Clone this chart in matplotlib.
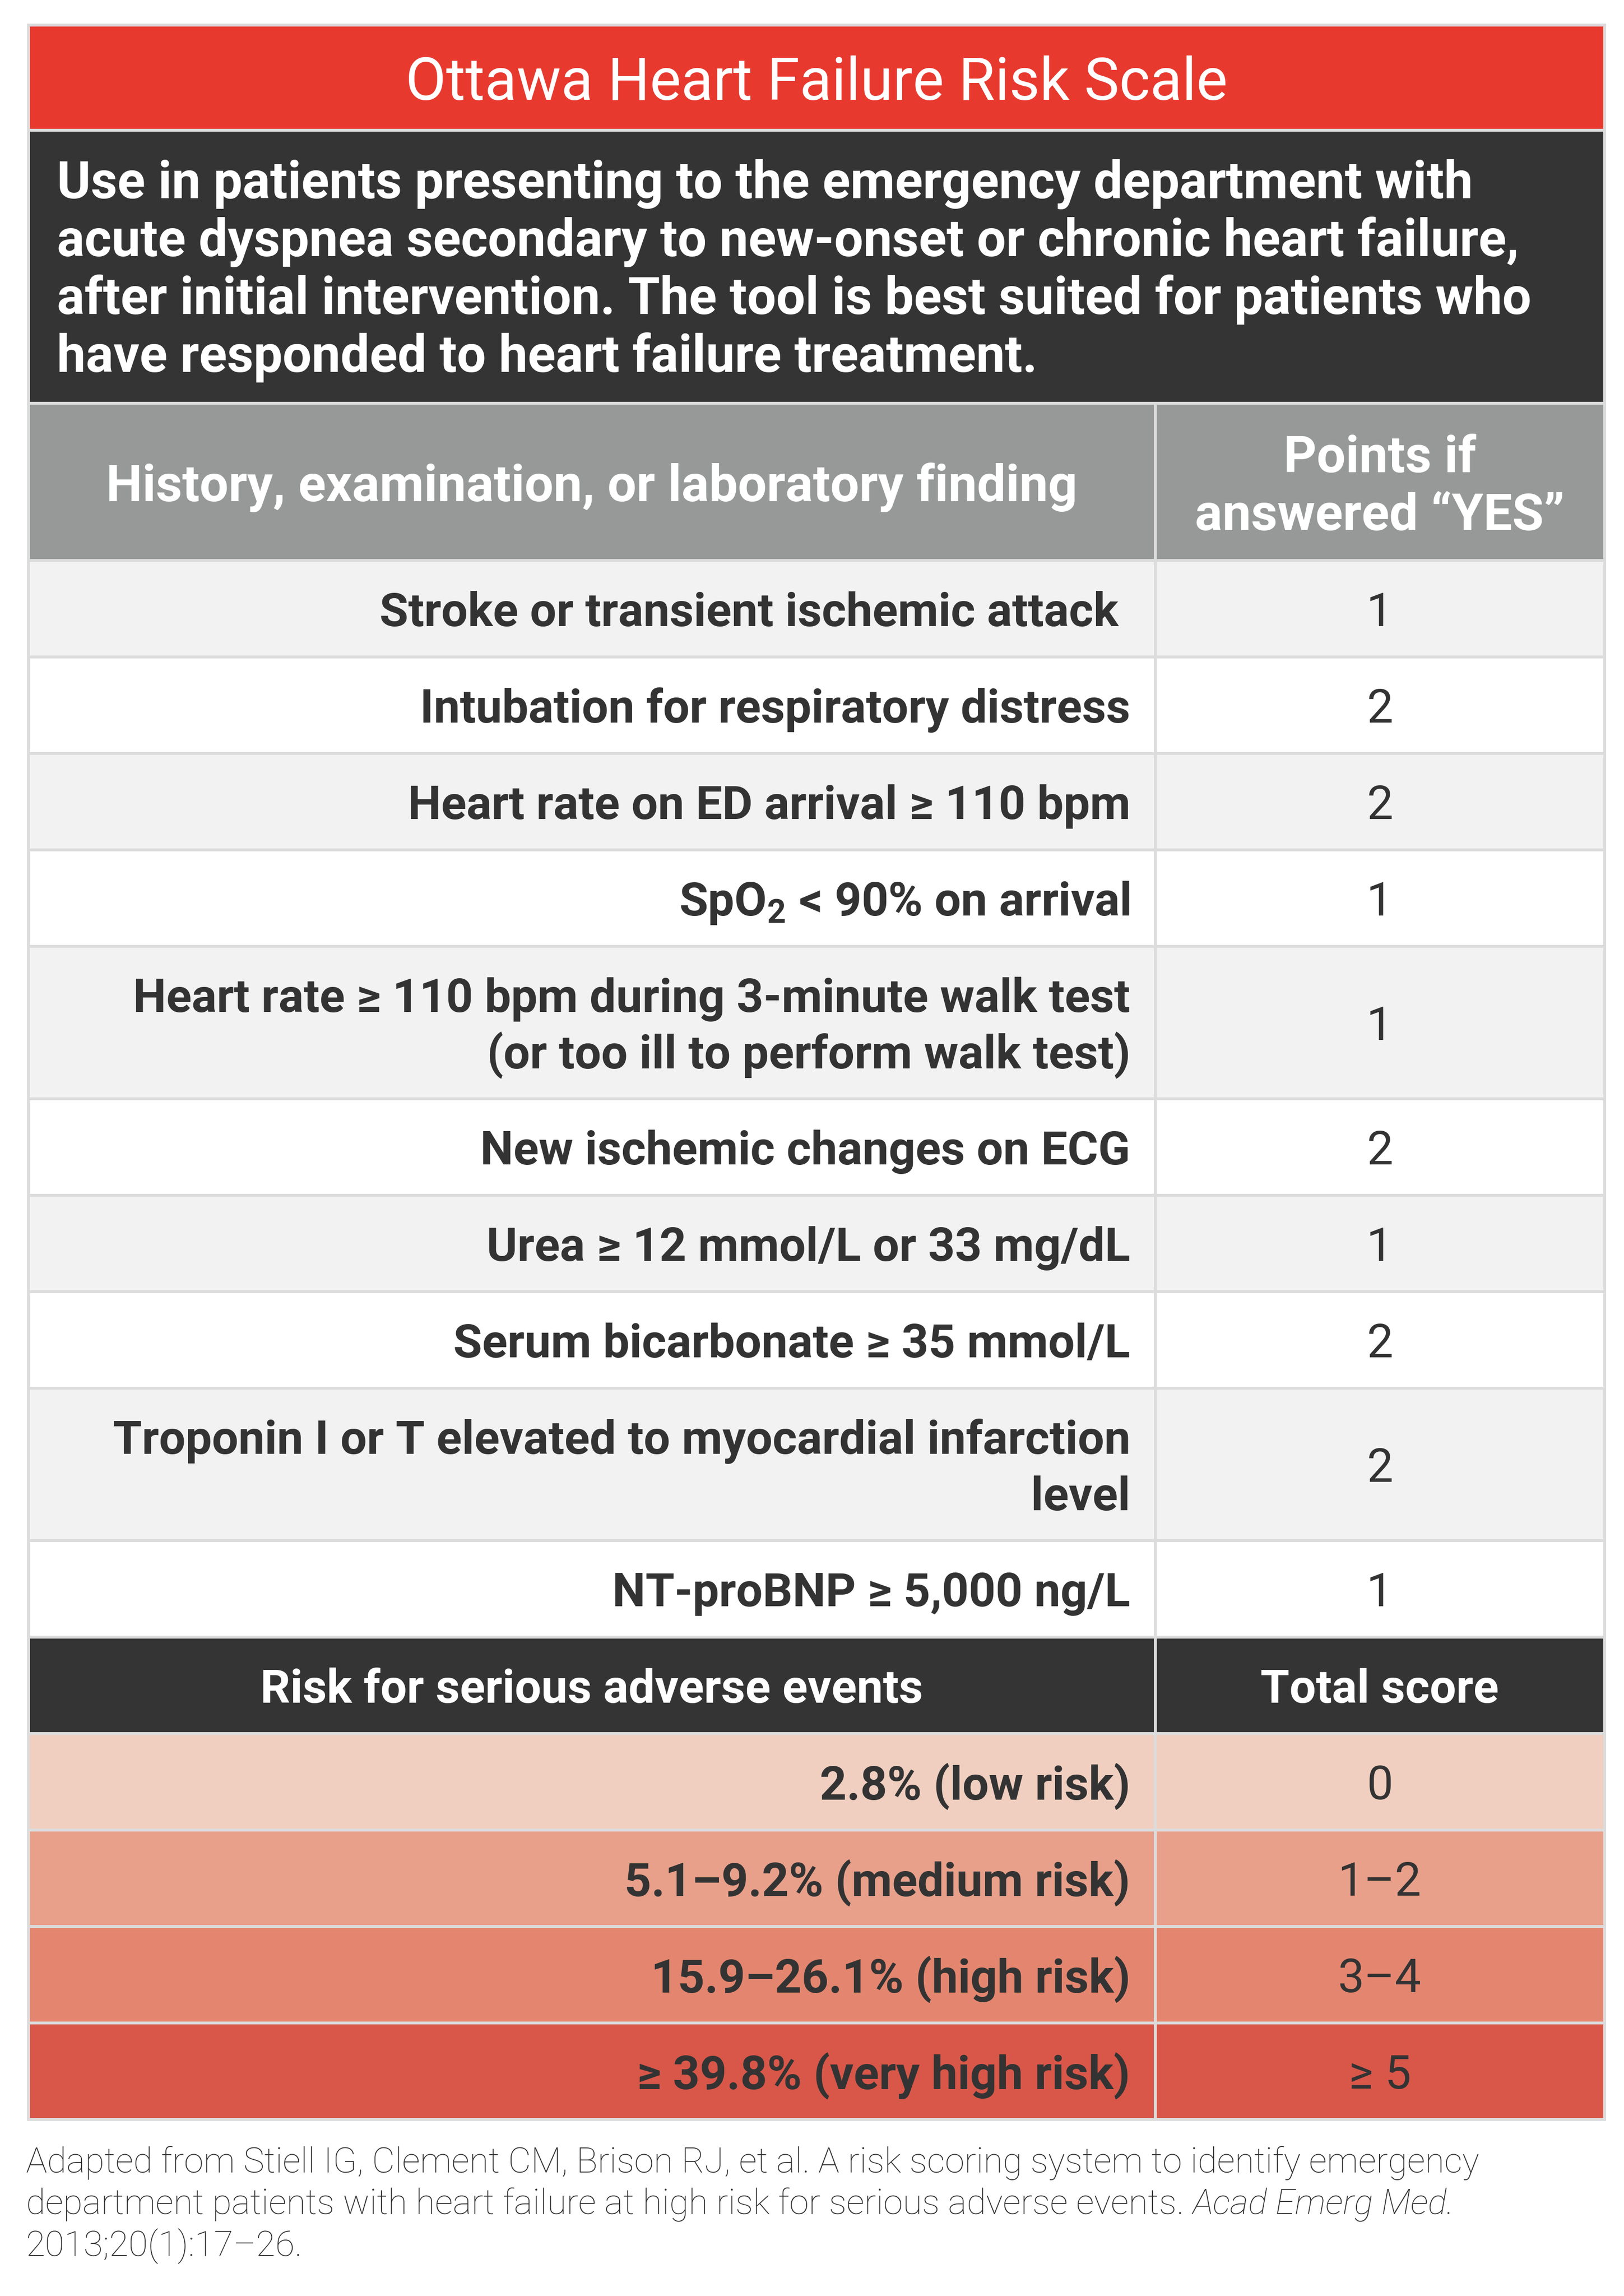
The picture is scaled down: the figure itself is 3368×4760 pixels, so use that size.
import matplotlib
matplotlib.use("Agg")
import matplotlib.pyplot as plt
from matplotlib.patches import Rectangle

plt.rcParams['font.family'] = ['Roboto', 'DejaVu Sans']
plt.rcParams['mathtext.fontset'] = 'custom'
plt.rcParams['mathtext.rm'] = 'Roboto'
plt.rcParams['mathtext.bf'] = 'Roboto:bold'

# ---- content ----
title = "Ottawa Heart Failure Risk Scale"
intro_lines = [
    "Use in patients presenting to the emergency department with",
    "acute dyspnea secondary to new-onset or chronic heart failure,",
    "after initial intervention. The tool is best suited for patients who",
    "have responded to heart failure treatment.",
]
finding_header = ["History, examination, or laboratory finding"]
points_header = ["Points if", "answered \u201cYES\u201d"]
findings = [
    ["Stroke or transient ischemic attack "],
    ["Intubation for respiratory distress"],
    ["Heart rate on ED arrival \u2265 110 bpm"],
    ["SpO$_\\mathbf{2}$ < 90% on arrival"],
    ["Heart rate \u2265 110 bpm during 3-minute walk test",
     "(or too ill to perform walk test)"],
    ["New ischemic changes on ECG"],
    ["Urea \u2265 12 mmol/L or 33 mg/dL"],
    ["Serum bicarbonate \u2265 35 mmol/L"],
    ["Troponin I or T elevated to myocardial infarction", "level"],
    ["NT-proBNP \u2265 5,000 ng/L"],
]
points = ["1", "2", "2", "1", "1", "2", "1", "2", "2", "1"]
risk_header = "Risk for serious adverse events"
score_header = "Total score"
risk_labels = ["2.8% (low risk)", "5.1\u20139.2% (medium risk)",
               "15.9\u201326.1% (high risk)", "\u2265 39.8% (very high risk)"]
scores = ["0", "1\u20132", "3\u20134", "\u2265 5"]
note_line1 = ("Adapted from Stiell IG, Clement CM, Brison RJ, et al. "
              "A risk scoring system to identify emergency")
note_line2 = "department patients with heart failure at high risk for serious adverse events."
note_journal = "Acad Emerg Med."
note_line3 = "2013;20(1):17\u201326."

# ---- style ----
W, H, DPI = 3368, 4760, 100
RED = '#e8392f'
DARK = '#343434'
GREY_HEAD = '#969998'
ROW_A = '#f2f2f2'
ROW_B = '#ffffff'
GRID = '#dcdcdc'
TXT = '#333333'
RISK_COLORS = ['#f0cfc0', '#e8a08a', '#e4866f', '#d85749']
BODY = 70
INTRO = 77
HEAD = 76.5
TITLE_SIZE = 88
NOTE = 52.7
HALF = 3

fig = plt.figure(figsize=(W / DPI, H / DPI), dpi=DPI)
ax = fig.add_axes([0, 0, 1, 1])
ax.set_xlim(0, W)
ax.set_ylim(H, 0)
ax.axis('off')

x_left, x_mid, x_right = 58.5, 2395.5, 3327.5
single_h, double_h = 200, 316


def cap_px(size):
    return 0.711 * size * DPI / 72


def put_lines(lines, x, yc, size, spacing, **kw):
    first = yc - (len(lines) - 1) * spacing / 2 + cap_px(size) / 2
    for i, s in enumerate(lines):
        ax.text(x, first + i * spacing, s, fontsize=size, va='baseline', **kw)


def cell(x0, x1, y0, y1, color):
    ax.add_patch(Rectangle((x0 + HALF, y0 + HALF), x1 - x0 - 2 * HALF,
                           y1 - y0 - 2 * HALF, facecolor=color,
                           edgecolor='none'))


# grid background
y_top = 52
y_title = 269.5
y_intro = 836
y_head = 1161.5
row_edges = [y_head]
for lines in findings:
    row_edges.append(row_edges[-1] + (double_h if len(lines) > 1 else single_h))
y_risk_head = row_edges[-1]
risk_edges = [y_risk_head + single_h * k for k in range(len(risk_labels) + 2)]
y_bottom = risk_edges[-1]

ax.add_patch(Rectangle((x_left - HALF, y_top - HALF), x_right - x_left + 2 * HALF,
                       y_bottom - y_top + 2 * HALF, facecolor=GRID, edgecolor='none'))

# title band
cell(x_left, x_right, y_top, y_title, RED)
put_lines([title], (x_left + x_right) / 2, (y_top + y_title) / 2 + 3, TITLE_SIZE, 0,
          color='white', ha='center')

# intro band
cell(x_left, x_right, y_title, y_intro, DARK)
put_lines(intro_lines, 118, (y_title + y_intro) / 2, INTRO, 120,
          color='white', ha='left', fontweight='bold')

# header
cx1 = (x_left + x_mid) / 2
cx2 = (x_mid + x_right) / 2
cell(x_left, x_mid, y_intro, y_head, GREY_HEAD)
cell(x_mid, x_right, y_intro, y_head, GREY_HEAD)
put_lines(finding_header, cx1, (y_intro + y_head) / 2 + 2, HEAD, 120,
          color='white', ha='center', fontweight='bold')
put_lines(points_header, cx2, (y_intro + y_head) / 2 + 2, HEAD, 120,
          color='white', ha='center', fontweight='bold')

# findings rows
for i, (lines, pts) in enumerate(zip(findings, points)):
    y0, y1 = row_edges[i], row_edges[i + 1]
    col = ROW_A if i % 2 == 0 else ROW_B
    cell(x_left, x_mid, y0, y1, col)
    cell(x_mid, x_right, y0, y1, col)
    yc = (y0 + y1) / 2 + 2
    put_lines(lines, 2344, yc, BODY, 117, color=TXT, ha='right',
              fontweight='bold')
    put_lines([pts], cx2, yc, BODY, 0, color=TXT, ha='center')

# risk header
y0, y1 = risk_edges[0], risk_edges[1]
cell(x_left, x_mid, y0, y1, DARK)
cell(x_mid, x_right, y0, y1, DARK)
put_lines([risk_header], cx1, (y0 + y1) / 2 + 2, BODY, 0, color='white',
          ha='center', fontweight='bold')
put_lines([score_header], cx2, (y0 + y1) / 2 + 2, BODY, 0, color='white',
          ha='center', fontweight='bold')

# risk rows
for i, (lab, sc, col) in enumerate(zip(risk_labels, scores, RISK_COLORS)):
    y0, y1 = risk_edges[i + 1], risk_edges[i + 2]
    cell(x_left, x_mid, y0, y1, col)
    cell(x_mid, x_right, y0, y1, col)
    yc = (y0 + y1) / 2 + 2
    put_lines([lab], 2344, yc, BODY, 0, color=TXT, ha='right', fontweight='bold')
    put_lines([sc], cx2, yc, BODY, 0, color=TXT, ha='center')

# footnote
note_x = 54
ax.text(note_x, 4504, note_line1, fontsize=NOTE, color=TXT, fontweight='light',
        va='baseline', ha='left')
t2 = ax.text(note_x, 4590, note_line2, fontsize=NOTE, color=TXT,
             fontweight='light', va='baseline', ha='left')
ax.text(note_x, 4677, note_line3, fontsize=NOTE, color=TXT, fontweight='light',
        va='baseline', ha='left')
renderer = fig.canvas.get_renderer()
bb = t2.get_window_extent(renderer=renderer)
x_end = ax.transData.inverted().transform((bb.x1, bb.y0))[0]
ax.text(x_end + 0.25 * NOTE * DPI / 72, 4590, note_journal, fontsize=NOTE,
        color=TXT, fontweight='light', fontstyle='italic', va='baseline',
        ha='left')

fig.savefig('out.png', dpi=DPI, facecolor='white')
